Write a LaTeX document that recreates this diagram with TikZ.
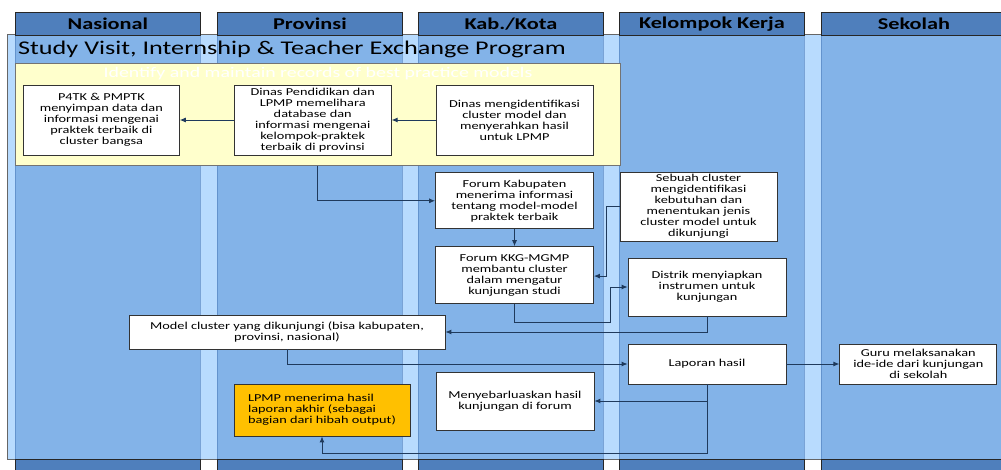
\documentclass[tikz,border=0pt]{standalone}
\usepackage{fontspec}
\setmainfont{Carlito}
\newfontfamily\lebar{Carlito}[FakeStretch=1.35]
\usetikzlibrary{positioning,arrows.meta,calc}
\definecolor{latar}{HTML}{B8DBFE}
\definecolor{jalurbiru}{HTML}{83B3E8}
\definecolor{kepalabiru}{HTML}{4F7FBC}
\definecolor{kuningmuda}{HTML}{FFFFCC}
\definecolor{emas}{HTML}{FFC000}
\definecolor{garis}{HTML}{1F3A5C}
\tikzset{
  kotak/.style    = {draw=black!80, fill=white, align=center, inner sep=2pt,
                     line width=0.8pt, font=\lebar\fontsize{10.6}{11}\selectfont},
  kotaklebar/.style = {kotak, minimum width=157, minimum height=57},
  kepala/.style   = {draw=black!85, fill=kepalabiru, line width=0.8pt,
                     font=\lebar\bfseries\fontsize{16.5}{18}\selectfont},
  panah/.style    = {-{Latex[length=6pt,width=5pt]}, draw=garis, line width=0.9pt},
  tepi/.style     = {draw=kepalabiru, opacity=0.6, line width=0.8pt}
}
\begin{document}
\begin{tikzpicture}[x=1pt, y=-1pt, node distance=17pt and 44pt]
        \useasboundingbox (0,0) rectangle (1001,470);
        \clip (0,0) rectangle (1001,470);
        % lanes
        \draw[fill=latar, draw=black!60, line width=1pt] (7,35) rectangle (1010,459);
        \foreach \x/\nama [count=\i] in {15/Nasional, 217/Provinsi, 418/{Kab./Kota},
                                         619/{Kelompok Kerja}, 821/Sekolah}{
            \fill[jalurbiru] (\x,35) rectangle ++(185,424);
            \draw[tepi] (\x,35) -- ++(0,424) (\x+185,35) -- ++(0,424);
            \node[kepala, anchor=north west, minimum width=185, minimum height=23]
                (kepala\i) at (\x,12) {\nama};
            \draw[kepala] (\x,459) rectangle ++(185,15);
        }
        \node[anchor=west, inner sep=0, font=\lebar\fontsize{19.4}{21}\selectfont]
            (judul) at (18,49) {Study Visit, Internship \& Teacher Exchange Program};

        % best practice group
        \node[draw=black!55, fill=kuningmuda, line width=0.8pt, anchor=north west,
              minimum width=605, minimum height=102, inner sep=0] (kuning) at (15,63) {};
        \node[text=white, inner sep=0, font=\lebar\fontsize{14.7}{16}\selectfont]
            (kuningjudul) at (318,74) {Identify and maintain records of best practice models};

        \node[kotaklebar, minimum height=70] (dinaskab) at (514.5,120)
            {Dinas mengidentifikasi\\ cluster model dan\\ menyerahkan hasil\\ untuk LPMP};
        \node[kotaklebar, minimum height=70, left=of dinaskab] (dinasprov)
            {Dinas Pendidikan dan\\ LPMP memelihara\\ database dan\\ informasi mengenai\\ kelompok-praktek\\ terbaik di provinsi};
        \node[kotak, minimum width=156, minimum height=70, left=54pt of dinasprov] (p4tk)
            {P4TK \& PMPTK\\ menyimpan data dan\\ informasi mengenai\\ praktek terbaik di\\ cluster bangsa};
        \node[kotak, minimum width=158, minimum height=56, below=of dinaskab] (forumkab)
            {Forum Kabupaten\\ menerima informasi\\ tentang model-model\\ praktek terbaik};
        \node[kotak, minimum width=158, minimum height=57, below=of forumkab] (forumkkg)
            {Forum KKG-MGMP\\ membantu cluster\\ dalam mengatur\\ kunjungan studi};
        \node[kotaklebar, minimum height=69] (cluster) at (698.5,206.5)
            {Sebuah cluster\\ mengidentifikasi\\ kebutuhan dan\\ menentukan jenis\\ cluster model untuk\\ dikunjungi};
        \node[kotak, minimum width=158, minimum height=58] (distrik) at (707,287)
            {Distrik menyiapkan\\ instrumen untuk\\ kunjungan};
        \node[kotak, minimum width=316, minimum height=34] (model) at (287,332)
            {Model cluster yang dikunjungi (bisa kabupaten,\\ provinsi, nasional)};
        \node[kotak, minimum width=158, minimum height=40] (laporan) at (707,364) {Laporan hasil};
        \node[kotak, minimum width=157, minimum height=40, right=53pt of laporan] (guru)
            {Guru melaksanakan\\ ide-ide dari kunjungan\\ di sekolah};
        \node[kotak, minimum width=158, minimum height=58] (sebar) at (515,401)
            {Menyebarluaskan hasil\\ kunjungan di forum};
        \node[kotak, fill=emas, align=left, minimum width=176, minimum height=52] (lpmp) at (322,410)
            {LPMP menerima hasil\\ laporan akhir (sebagai\\ bagian dari hibah output)};

        \draw[panah] (dinaskab) -- (dinasprov);
        \draw[panah] (dinasprov) -- (p4tk);
        \draw[panah] ($(kuning.south -| dinasprov.south)+(5,0)$) |- (forumkab.west);
        \draw[panah] (forumkab) -- (forumkkg);
        \draw[panah] (cluster.west) -- ++(-13,0) |- ([yshift=-1pt]forumkkg.east);
        \draw[panah] (forumkkg.south) -- ++(0,18) -| ([xshift=-17pt]distrik.west) -- (distrik.west);
        \draw[panah] (distrik.south) |- (model.east);
        \draw[panah] (model.south) |- (laporan.west);
        \draw[panah] (laporan) -- (guru);
        \draw[panah] (laporan.south) |- (sebar.east);
        \draw[panah] (laporan.south) -- ++(0,69) -| (lpmp.south);
    \end{tikzpicture}
\end{document}
